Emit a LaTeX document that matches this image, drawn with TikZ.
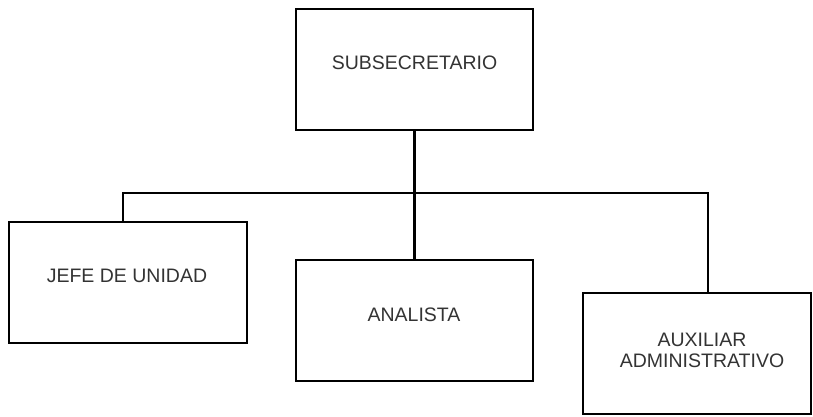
\documentclass[tikz,border=0pt]{standalone}
\usepackage{fontspec}
\setmainfont{Liberation Sans}
\begin{document}
\begin{tikzpicture}[x=1pt,y=-1pt,
  box/.style={draw=black,line width=2.2pt,minimum width=#1,minimum height=121pt,inner sep=0pt},
  lbl/.style={text=black!80,font=\fontsize{19.5}{21}\selectfont,align=center,inner sep=0pt},
  conn/.style={draw=black,line width=2.2pt}]
\useasboundingbox (0,0) rectangle (813,416);
\node[box=237pt] (sub) at (414.5,69.5) {};
\node[box=238pt] (jefe) at (128,282.5) {};
\node[box=237pt] (ana) at (414.5,320.5) {};
\node[box=228pt] (aux) at (697,353.5) {};
\node[lbl] (tsub) at (414.5,63) {SUBSECRETARIO};
\node[lbl] (tjefe) at (127,276) {JEFE DE UNIDAD};
\node[lbl] (tana) at (414,314.5) {ANALISTA};
\node[lbl] (taux) at (702,350.5) {AUXILIAR\\ADMINISTRATIVO};
\coordinate (hl) at (123,193);
\coordinate (hr) at (708,193);
\draw[conn] (sub.south) -- (ana.north);
\draw[conn] (jefe.north -| hl) -- (hl) -- (hr) -- (aux.north -| hr);
\end{tikzpicture}
\end{document}
